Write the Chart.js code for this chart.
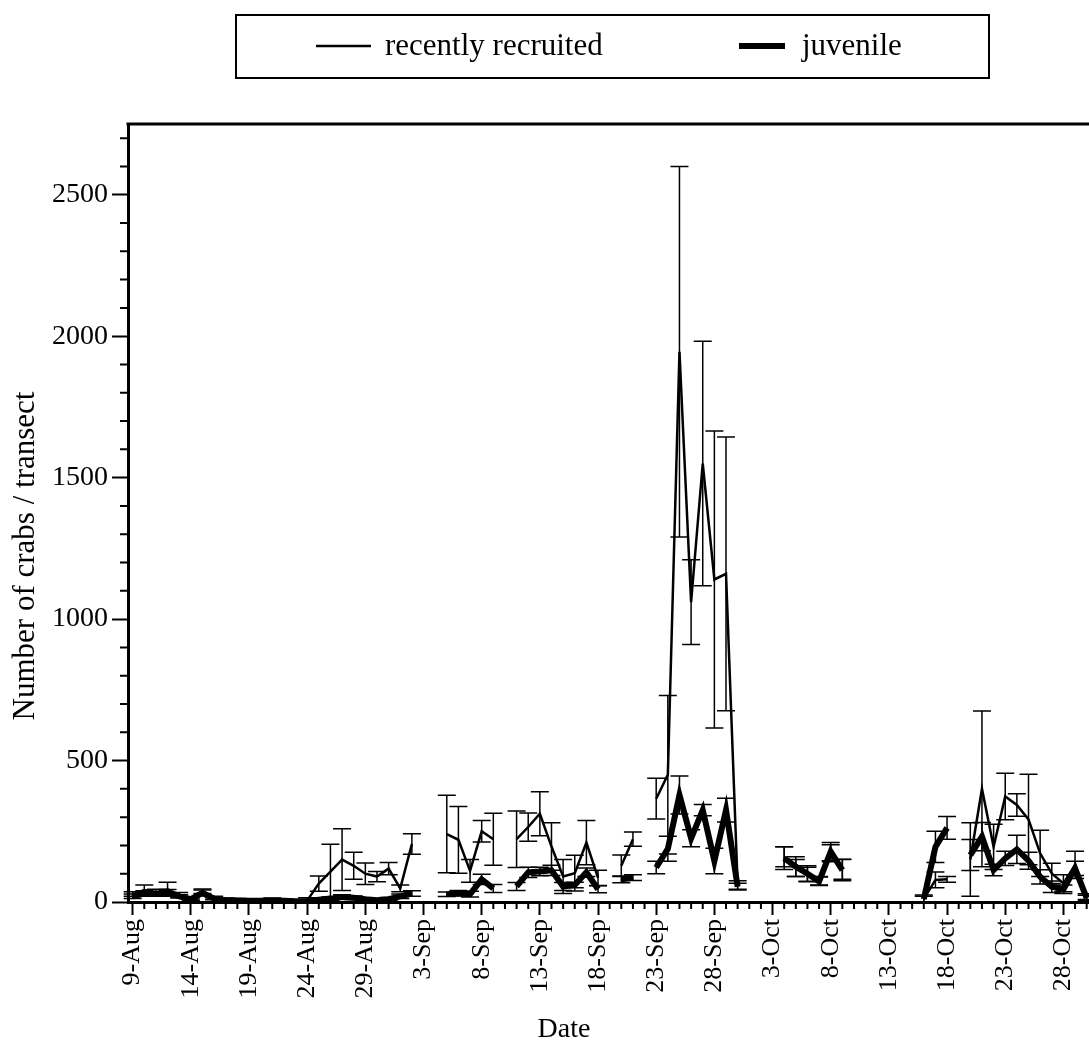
<!DOCTYPE html>
<html>
<head>
<meta charset="utf-8">
<script src="https://cdn.jsdelivr.net/npm/chart.js@4.4.0/dist/chart.umd.min.js"></script>
<style>
  html, body { margin: 0; padding: 0; background: #fff; }
  #wrap { width: 1089px; height: 1051px; }
</style>
</head>
<body>
<div id="wrap"><canvas id="crabs"></canvas></div>
<script>
// day 0 = 9-Aug ... day 82 = 30-Oct, null = no sample that day
const tickDays = [0, 5, 10, 15, 20, 25, 30, 35, 40, 45, 50, 55, 60, 65, 70, 75, 80];
const tickLabels = ['9-Aug', '14-Aug', '19-Aug', '24-Aug', '29-Aug', '3-Sep', '8-Sep', '13-Sep',
  '18-Sep', '23-Sep', '28-Sep', '3-Oct', '8-Oct', '13-Oct', '18-Oct', '23-Oct', '28-Oct'];
const yTicks = [0, 500, 1000, 1500, 2000, 2500];

const recruited = [
  28, 42, 35, 45, 26, 12, 38, 15, 10, 9, 8, 8, 10, 8, 5,            // 9-23 Aug
  5, 65, 107, 150, 128, 100, 90, 118, 48, 205, null, null,         // 24 Aug - 4 Sep
  240, 220, 110, 250, 222, null, 222, 265, 312, 196, 90, 102, 210, 85, null, // 5-19 Sep
  128, 222, null, 365, 450, 1945, 1060, 1550, 1140, 1160, 60,      // 20-30 Sep
  null, null, null, 160, 120, 98, 75, 172, 115,                    // 1-9 Oct
  null, null, null, null, null, null, 10, 78, 80, null,            // 10-19 Oct
  150, 400, 195, 373, 343, 292, 172, 101, 66, 131, 19              // 20-30 Oct
];
const recruitedErr = [
  8, 18, 10, 25, 8, 5, 8, 5, 4, 3, 3, 3, 4, 3, 3,
  10, 27, 97, 109, 48, 38, 18, 22, 12, 36, null, null,
  137, 118, 40, 38, 92, null, 100, 50, 78, 84, 60, 63, 78, 27, null,
  38, 25, null, 72, 280, 655, 150, 432, 525, 484, 15,
  null, null, null, 35, 30, 25, 15, 30, 35,
  null, null, null, null, null, null, 10, 28, 10, null,
  130, 275, 80, 82, 40, 160, 82, 36, 30, 48, 10
];
const juvenile = [
  20, 30, 28, 32, 20, 10, 32, 12, 6, 5, 4, 4, 5, 4, 3,
  3, 8, 12, 18, 15, 10, 6, 10, 20, 30, null, null,
  27, 31, 28, 80, 48, null, 55, 105, 108, 112, 55, 60, 105, 45, null,
  80, 86, null, 122, 188, 378, 225, 325, 145, 325, 54,
  null, null, null, 155, 125, 100, 73, 178, 113,
  null, null, null, null, null, null, 10, 195, 262, null,
  166, 231, 113, 154, 186, 146, 89, 54, 45, 119, 14
];
const juvenileErr = [
  8, 10, 8, 12, 6, 4, 10, 4, 3, 2, 2, 2, 2, 2, 2,
  5, 5, 6, 8, 6, 5, 4, 6, 8, 10, null, null,
  8, 10, 10, 18, 14, null, 14, 18, 15, 18, 14, 10, 15, 12, null,
  12, 10, null, 22, 44, 67, 30, 20, 45, 42, 12,
  null, null, null, 40, 35, 28, 15, 32, 38,
  null, null, null, null, null, null, 15, 55, 40, null,
  55, 50, 20, 25, 50, 30, 25, 20, 15, 25, 10
];

const serif = "'Liberation Serif', 'Times New Roman', serif";

const errorBars = {
  id: 'errorBars',
  afterDatasetsDraw(chart) {
    const { ctx, scales: { x, y } } = chart;
    ctx.save();
    ctx.strokeStyle = '#000';
    ctx.lineWidth = 1.5;
    chart.data.datasets.forEach(ds => {
      ds.err.forEach((e, i) => {
        const v = ds.data[i].y;
        if (v === null || e === null) return;
        const px = x.getPixelForValue(i);
        const top = y.getPixelForValue(v + e);
        const bot = y.getPixelForValue(Math.max(v - e, 0));
        ctx.beginPath();
        ctx.moveTo(px, top); ctx.lineTo(px, bot);
        ctx.moveTo(px - 9, top); ctx.lineTo(px + 9, top);
        ctx.moveTo(px - 9, bot); ctx.lineTo(px + 9, bot);
        ctx.stroke();
      });
    });
    ctx.restore();
  }
};

const frame = {
  id: 'frame',
  afterDraw(chart) {
    const { ctx, chartArea: a, scales: { x, y } } = chart;
    ctx.save();
    ctx.strokeStyle = '#000';
    ctx.fillStyle = '#000';
    // top border of the plot
    ctx.lineWidth = 3;
    ctx.beginPath();
    ctx.moveTo(a.left - 1.5, a.top);
    ctx.lineTo(a.right, a.top);
    ctx.stroke();
    // minor ticks (every day / every 100)
    ctx.lineWidth = 2;
    ctx.beginPath();
    for (let d = Math.ceil(x.min); d <= x.max; d++) {
      if (d % 5 === 0) continue;
      const px = x.getPixelForValue(d);
      ctx.moveTo(px, a.bottom); ctx.lineTo(px, a.bottom + 7);
    }
    for (let v = 100; v < y.max; v += 100) {
      if (v % 500 === 0) continue;
      const py = y.getPixelForValue(v);
      ctx.moveTo(a.left - 8, py); ctx.lineTo(a.left, py);
    }
    ctx.stroke();

    // axis titles
    ctx.textAlign = 'center';
    ctx.textBaseline = 'middle';
    ctx.font = '28px ' + serif;
    ctx.fillText('Date', 564, 1030);
    ctx.font = '31px ' + serif;
    ctx.translate(26, 556);
    ctx.rotate(-Math.PI / 2);
    ctx.fillText('Number of crabs / transect', 0, 0);
    ctx.restore();

    // legend box
    ctx.save();
    ctx.strokeStyle = '#000';
    ctx.lineWidth = 2;
    ctx.strokeRect(236, 15, 753, 63);
    ctx.font = '31px ' + serif;
    ctx.textBaseline = 'middle';
    ctx.fillStyle = '#000';
    const items = [[316, 371, 385], [739, 785, 802]];
    chart.data.datasets.forEach((ds, i) => {
      const [x0, x1, tx] = items[i];
      ctx.lineWidth = ds.borderWidth;
      ctx.beginPath(); ctx.moveTo(x0, 46); ctx.lineTo(x1, 46); ctx.stroke();
      ctx.fillText(ds.label, tx, 47);
    });
    ctx.restore();
  }
};

new Chart(document.getElementById('crabs'), {
  type: 'line',
  data: {
    datasets: [
      {
        label: 'recently recruited',
        data: recruited.map((v, i) => ({ x: i, y: v })),
        err: recruitedErr,
        borderColor: '#000',
        borderWidth: 2.5
      },
      {
        label: 'juvenile',
        data: juvenile.map((v, i) => ({ x: i, y: v })),
        err: juvenileErr,
        borderColor: '#000',
        borderWidth: 6
      }
    ]
  },
  options: {
    responsive: true,
    maintainAspectRatio: false,
    animation: false,
    spanGaps: false,
    elements: {
      point: { radius: 0, hoverRadius: 0 },
      line: { tension: 0, borderJoinStyle: 'miter', borderCapStyle: 'butt' }
    },
    layout: { padding: { top: 124, left: 0, right: 0, bottom: 0 } },
    plugins: { legend: { display: false }, tooltip: { enabled: false } },
    scales: {
      x: {
        type: 'linear',
        min: -0.4,
        max: 82.2,
        afterBuildTicks: s => { s.ticks = tickDays.map(v => ({ value: v })); },
        afterFit: s => { s.height = 149; s.paddingLeft = 0; s.paddingRight = 0; },
        ticks: {
          autoSkip: false,
          minRotation: 90,
          maxRotation: 90,
          padding: 4,
          color: '#000',
          font: { family: serif, size: 26 },
          callback: v => tickLabels[tickDays.indexOf(v)]
        },
        grid: { drawOnChartArea: false, tickLength: 13, tickWidth: 2, tickColor: '#000' },
        border: { display: true, width: 3, color: '#000' }
      },
      y: {
        min: 0,
        max: 2750,
        afterBuildTicks: s => { s.ticks = yTicks.map(v => ({ value: v })); },
        afterFit: s => { s.width = 128; },
        ticks: {
          padding: 4,
          color: '#000',
          font: { family: serif, size: 28 },
          callback: v => String(v)
        },
        grid: { drawOnChartArea: false, tickLength: 16, tickWidth: 2, tickColor: '#000' },
        border: { display: true, width: 3, color: '#000' }
      }
    }
  },
  plugins: [errorBars, frame]
});
</script>
</body>
</html>
